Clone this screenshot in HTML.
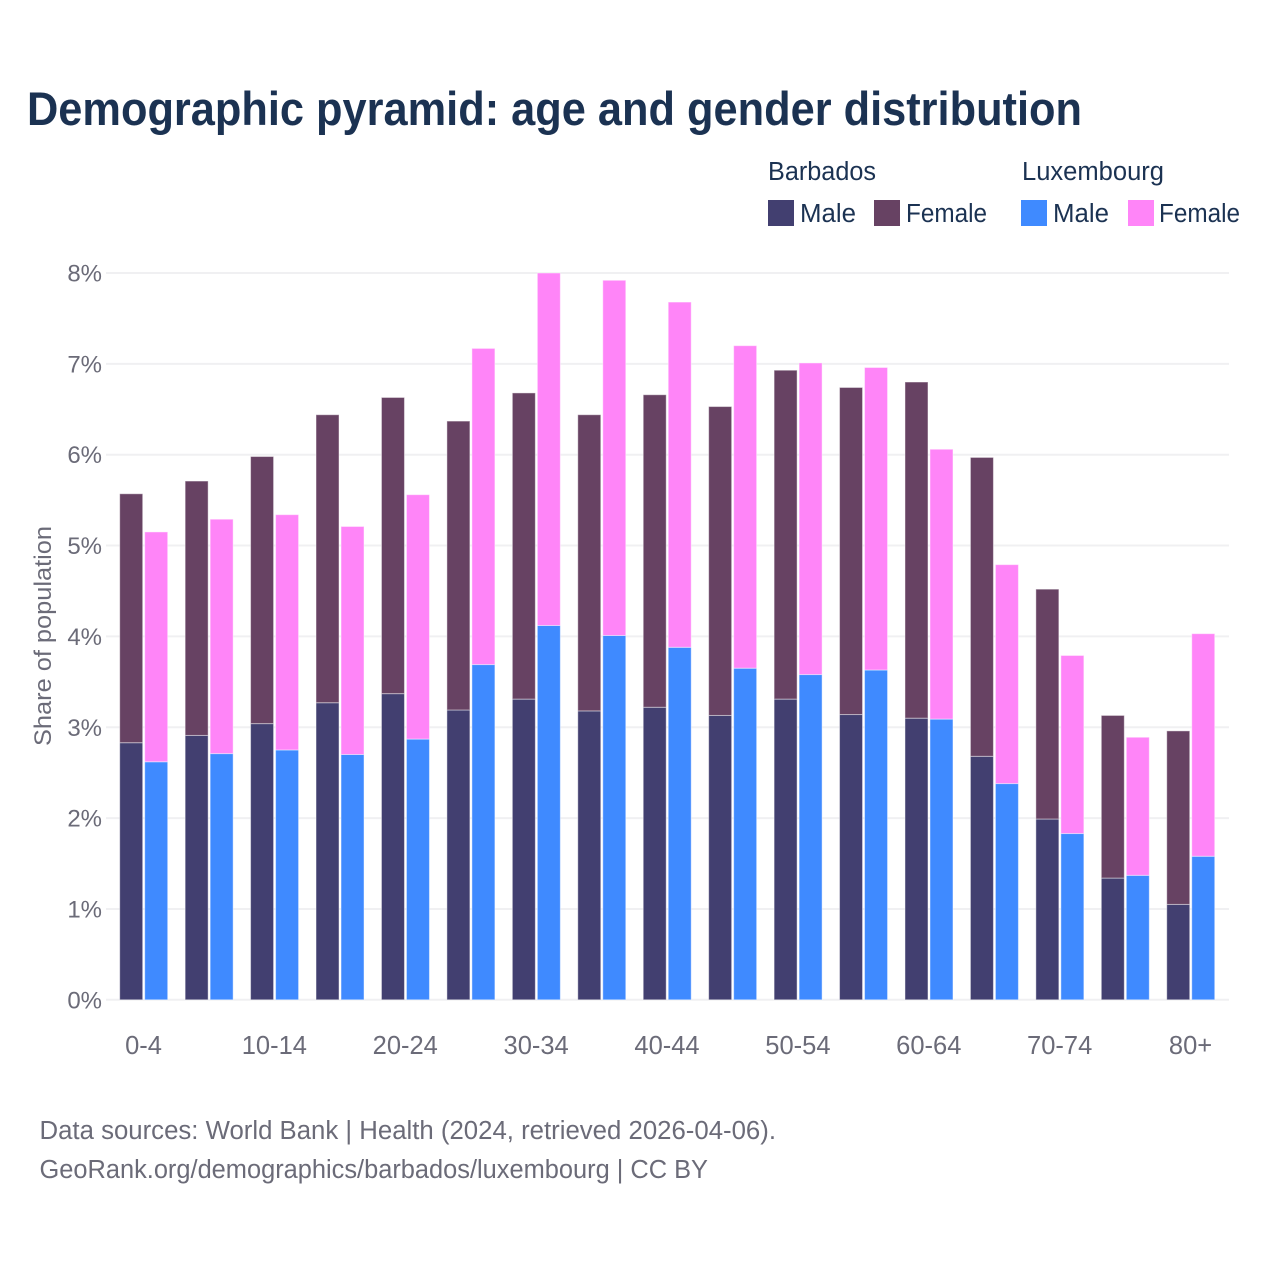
<!DOCTYPE html>
<html lang="en">
<head>
<meta charset="utf-8">
<title>Demographic pyramid: age and gender distribution</title>
<style>
html,body{margin:0;padding:0;background:#fff;width:1280px;height:1280px;overflow:hidden}
svg{display:block}
text{font-family:"Liberation Sans",sans-serif}
</style>
</head>
<body>
<svg id="chart" xmlns="http://www.w3.org/2000/svg" width="1280" height="1280" viewBox="0 0 1280 1280">
  <rect x="0" y="0" width="1280" height="1280" fill="#fff"/>
  <text x="27" y="125" font-size="47" font-weight="700" fill="#1b3252" textLength="1055" lengthAdjust="spacingAndGlyphs">Demographic pyramid: age and gender distribution</text>

  <g font-size="25.5" fill="#1b3252">
    <text x="768" y="180" textLength="108" lengthAdjust="spacingAndGlyphs">Barbados</text>
    <text x="1022" y="180" textLength="142" lengthAdjust="spacingAndGlyphs">Luxembourg</text>
    <rect x="768" y="200" width="26" height="26" fill="#423f70"/>
    <text x="800" y="222" textLength="56" lengthAdjust="spacingAndGlyphs">Male</text>
    <rect x="874" y="200" width="26" height="26" fill="#674263"/>
    <text x="906" y="222" textLength="81" lengthAdjust="spacingAndGlyphs">Female</text>
    <rect x="1021" y="200" width="26" height="26" fill="#3f8aff"/>
    <text x="1053" y="222" textLength="56" lengthAdjust="spacingAndGlyphs">Male</text>
    <rect x="1128" y="200" width="26" height="26" fill="#ff85f8"/>
    <text x="1159" y="222" textLength="81" lengthAdjust="spacingAndGlyphs">Female</text>
  </g>

  <g id="grid"></g>
  <g id="y-axis"></g>
  <g id="x-axis"></g>
  <g id="bars"></g>

  <text transform="translate(51,636) rotate(-90)" text-anchor="middle" font-size="24.5" fill="#6b6b78" textLength="220" lengthAdjust="spacingAndGlyphs">Share of population</text>

  <text x="39.5" y="1139" font-size="25.5" fill="#6b6b78" textLength="736.5" lengthAdjust="spacingAndGlyphs">Data sources: World Bank | Health (2024, retrieved 2026-04-06).</text>
  <text x="39.5" y="1178" font-size="25.5" fill="#6b6b78" textLength="668.5" lengthAdjust="spacingAndGlyphs">GeoRank.org/demographics/barbados/luxembourg | CC BY</text>
</svg>
<script>
const ageGroups = ['0-4','5-9','10-14','15-19','20-24','25-29','30-34','35-39','40-44','45-49','50-54','55-59','60-64','65-69','70-74','75-79','80+'];
const visibleAgeLabels = ['0-4','10-14','20-24','30-34','40-44','50-54','60-64','70-74','80+'];
const yTicks = [0,1,2,3,4,5,6,7,8];
const barbadosMale = [2.83,2.91,3.04,3.27,3.37,3.19,3.31,3.18,3.22,3.13,3.31,3.14,3.10,2.68,1.99,1.34,1.05];
const barbadosFemale = [2.74,2.80,2.94,3.17,3.26,3.18,3.37,3.26,3.44,3.40,3.62,3.60,3.70,3.29,2.53,1.79,1.91];
const luxembourgMale = [2.62,2.71,2.75,2.70,2.87,3.69,4.12,4.01,3.88,3.65,3.58,3.63,3.09,2.38,1.83,1.37,1.58];
const luxembourgFemale = [2.53,2.58,2.59,2.51,2.69,3.48,3.88,3.91,3.80,3.55,3.43,3.33,2.97,2.41,1.96,1.52,2.45];

const NS = 'http://www.w3.org/2000/svg';
const PLOT = {left: 106, right: 1229, top: 273, bottom: 999.8, yMax: 8};
const firstCenter = 143.5, step = 65.44, barW = 23, barGap = 2;

function yScale(v){ return PLOT.bottom - (v / PLOT.yMax) * (PLOT.bottom - PLOT.top); }
function xCenter(i){ return firstCenter + i * step; }
function make(tag, attrs, parent){
  const el = document.createElementNS(NS, tag);
  for (const k in attrs) el.setAttribute(k, attrs[k]);
  parent.appendChild(el);
  return el;
}

const gridG = document.getElementById('grid');
const yAxisG = document.getElementById('y-axis');
const xAxisG = document.getElementById('x-axis');
const barsG = document.getElementById('bars');

yTicks.forEach(function(t){
  const line = make('line', {x1: PLOT.left, x2: PLOT.right, y1: yScale(t), y2: yScale(t), stroke: '#f0f0f2', 'stroke-width': 2}, gridG);
  
  
  const label = make('text', {x: 102, y: yScale(t) + 8.5, 'text-anchor': 'end', 'font-size': 24, fill: '#6b6b78'}, yAxisG);
  
  
  label.textContent = t + '%';
});

ageGroups.forEach(function(age, i){
  if (visibleAgeLabels.indexOf(age) < 0) return;
  const label = make('text', {x: xCenter(i), y: 1054, 'text-anchor': 'middle', 'font-size': 25.5, fill: '#6b6b78'}, xAxisG);
  
  
  label.textContent = age;
});

function drawSeg(x, base, val, fill, name){
  const top = yScale(base + val);
  const r = make('rect', {x: x, y: top, width: barW, height: yScale(base) - top, fill: fill, stroke: '#ffffff', 'stroke-opacity': 0.45, 'stroke-width': 1}, barsG);
  
  
}

ageGroups.forEach(function(age, i){
  const c = xCenter(i);
  const xB = c - barW - barGap / 2 + 0.2;
  const xL = c + barGap / 2 + 0.2;
  drawSeg(xB, 0, barbadosMale[i], '#423f70', 'bar-barbados-male-' + age);
  drawSeg(xB, barbadosMale[i], barbadosFemale[i], '#674263', 'bar-barbados-female-' + age);
  drawSeg(xL, 0, luxembourgMale[i], '#3f8aff', 'bar-luxembourg-male-' + age);
  drawSeg(xL, luxembourgMale[i], luxembourgFemale[i], '#ff85f8', 'bar-luxembourg-female-' + age);
});
</script>
</body>
</html>
